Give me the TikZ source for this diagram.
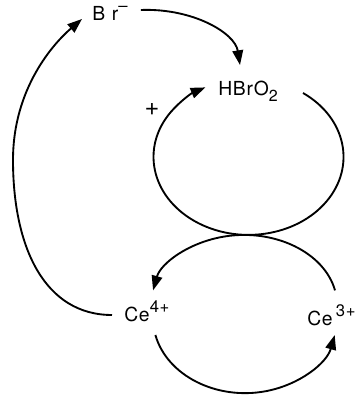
\documentclass[tikz,border=0pt]{standalone}
\usepackage{fontspec}
\newfontfamily\chemfont[LetterSpace=4]{TeX Gyre Heros}
\newcommand\chsup[1]{\raisebox{7pt}{\fontsize{12.5}{13}\selectfont #1}}
\newcommand\chsub[1]{\raisebox{-4.5pt}{\fontsize{12}{13}\selectfont #1}}
\usetikzlibrary{arrows.meta,calc}

\begin{document}
\begin{tikzpicture}[x=0.75pt,y=0.75pt,
  species/.style={font=\chemfont\fontsize{14.5}{16}\selectfont,inner sep=0pt,anchor=base west},
  react/.style={line width=1.4pt,-{Triangle[length=11pt,width=8pt]}}]
  \useasboundingbox (0,0) rectangle (358,398);
  \node[species] (br) at (92,377) {B\kern5pt r\chsup{\textendash}};
  \node[species] (hbro) at (218,302) {HBrO\chsub{2}};
  \node[species] (ce4) at (124,76) {Ce\chsup{4+}};
  \node[species] (ce3) at (307,72) {Ce\,\chsup{3+}};
  \node[species,anchor=center,font=\chemfont\fontsize{19}{20}\selectfont] (plus) at (152,288) {+};
  \coordinate (bend) at (13,238);
  \draw[react] ($(br.base east)+(13,11)$) .. controls +(52,2) and +(-5,32) .. ($(hbro.base west)+(22,31)$);
  \draw[react] ($(hbro.base west)+(85,3)$) arc[start angle=55,end angle=-243,x radius=71.25pt,y radius=58.5pt];
  \draw[react] ($(ce3.base west)+(28,35.6)$) arc[start angle=12,end angle=168,x radius=69.75pt,y radius=52.5pt];
  \draw[react] ($(ce4.base west)+(31.4,-13)$) arc[start angle=193,end angle=347,x radius=69pt,y radius=56.25pt];
  \draw[react] ($(ce4.base west)+(-12,7)$) .. controls +(-67,0) and +(0,-88) .. (bend) .. controls +(0,72) and +(-28,-24) .. ($(br.base west)+(-10,2)$);
\end{tikzpicture}
\end{document}
